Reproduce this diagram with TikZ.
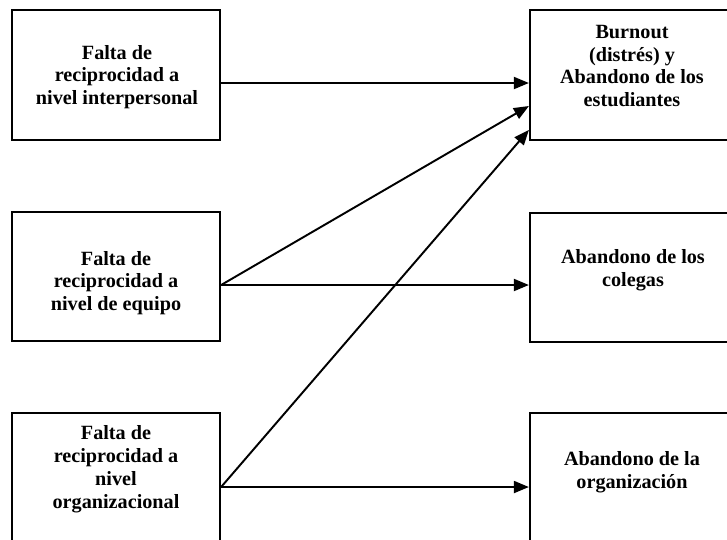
\documentclass[tikz,border=0pt]{standalone}
\usepackage{fontspec}
\setmainfont{Liberation Serif}
\usetikzlibrary{arrows.meta}

\begin{document}
\begin{tikzpicture}[x=0.02cm,y=-0.02cm,
  box/.style={draw,line width=1.3pt,minimum width=4.16cm,minimum height=2.6cm,inner sep=0pt},
  lbl/.style={align=center,font=\fontsize{11.5}{13}\selectfont\bfseries},
  flecha/.style={line width=1.1pt,-{Triangle[length=3mm,width=2.4mm]}}]
\useasboundingbox (0,0) rectangle (727,539);
\clip (0,0) rectangle (727,539);
% cajas de la izquierda
\node[box] (l1) at (116,75) {};
\node[box,minimum height=2.58cm] (l2) at (116,276.5) {};
\node[box,minimum height=5.04cm] (l3) at (116,539) {};
% cajas de la derecha
\node[box,minimum width=4.1cm] (r1) at (632.5,75) {};
\node[box,minimum width=4.1cm,minimum height=2.58cm] (r2) at (632.5,277.5) {};
\node[box,minimum width=4.1cm,minimum height=5.04cm] (r3) at (632.5,539) {};
% textos
\node[lbl] (l1t) at (117,77) {Falta de\\reciprocidad a\\nivel interpersonal};
\node[lbl] (l2t) at (116,283) {Falta de\\reciprocidad a\\nivel de equipo};
\node[lbl] (l3t) at (116,469) {Falta de\\reciprocidad a\\nivel\\organizacional};
\node[lbl] (r1t) at (632,66) {Burnout\\(distrés) y\\Abandono de los\\estudiantes};
\node[lbl] (r2t) at (633,270) {Abandono de los\\colegas};
\node[lbl] (r3t) at (632,472) {Abandono de la\\organización};
% flechas
\draw[flecha] ([yshift=-0.16cm]l1.east) -- ([yshift=-0.16cm]r1.west);
\draw[flecha] ([yshift=-0.17cm]l2.east) -- ([yshift=-0.15cm]r2.west);
\draw[flecha] ([yshift=-0.17cm]l2.east) -- ([yshift=-0.62cm]r1.west);
\draw[flecha] ([yshift=1.04cm]l3.east) -- ([yshift=1.04cm]r3.west);
\draw[flecha] ([yshift=1.04cm]l3.east) -- ([yshift=-1.1cm]r1.west);
\end{tikzpicture}
\end{document}
